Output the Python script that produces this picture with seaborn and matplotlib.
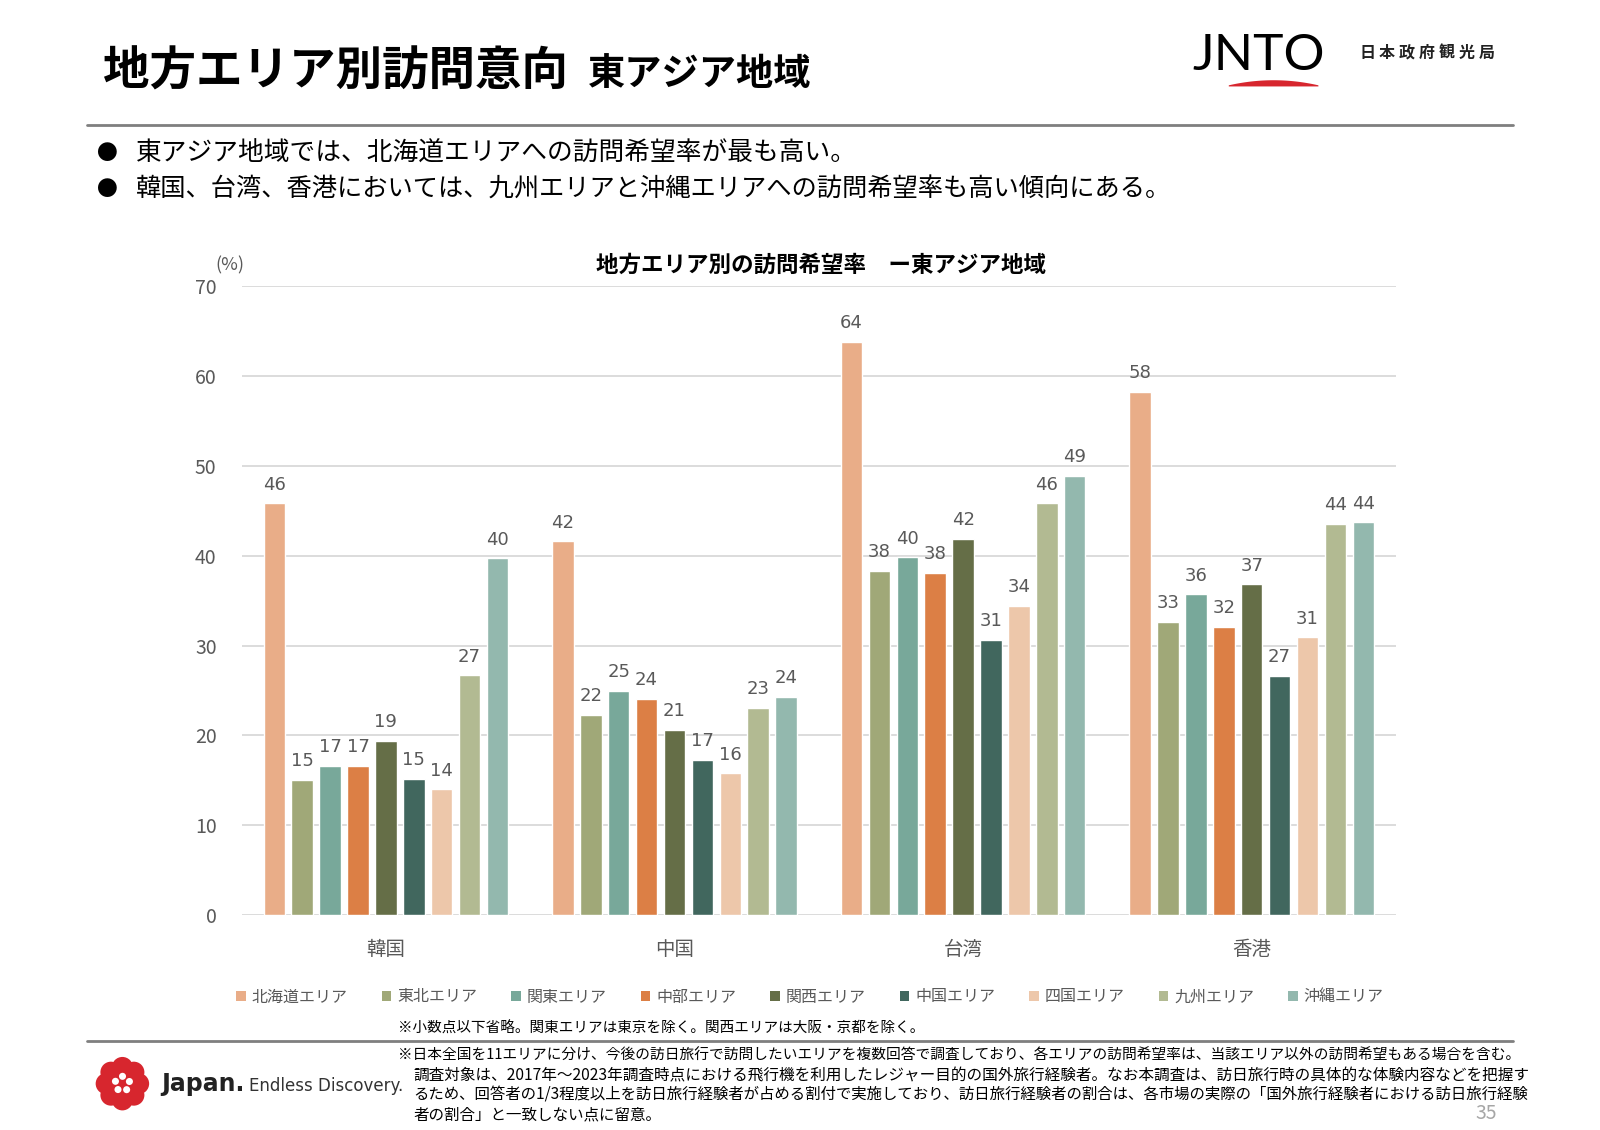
import numpy as np
import pandas as pd
import matplotlib
matplotlib.use("Agg")
import matplotlib.pyplot as plt
import seaborn as sns
from matplotlib.patches import Patch, Polygon, Circle
from matplotlib.lines import Line2D

# ---------------- data ----------------
countries = ["韓国", "中国", "台湾", "香港"]
areas = ["北海道エリア", "東北エリア", "関東エリア", "中部エリア", "関西エリア",
         "中国エリア", "四国エリア", "九州エリア", "沖縄エリア"]
area_colors = ["#E9AD88", "#A0A878", "#78A89A", "#DC7F45", "#656E47",
               "#41675E", "#EDC7AA", "#B2BA92", "#93B8AE"]
korea = [45.8, 15.1, 16.6, 16.6, 19.4, 15.2, 14.0, 26.7, 39.7]
china = [41.6, 22.3, 25.0, 24.1, 20.6, 17.3, 15.8, 23.1, 24.3]
taiwan = [63.8, 38.3, 39.8, 38.1, 41.9, 30.6, 34.4, 45.8, 48.9]
hongkong = [58.2, 32.6, 35.7, 32.1, 36.8, 26.6, 30.9, 43.5, 43.7]
y_ticks = [0, 10, 20, 30, 40, 50, 60, 70]

rows = []
for c, vals in zip(countries, [korea, china, taiwan, hongkong]):
    for a, v in zip(areas, vals):
        rows.append({"country": c, "area": a, "value": v})
df = pd.DataFrame(rows)

# ---------------- style ----------------
sns.set_theme(style="white")
plt.rcParams["font.family"] = ["Noto Sans CJK JP", "DejaVu Sans"]
GRAY = "#595959"

fig = plt.figure(figsize=(16, 11.3), dpi=100)
fig.patch.set_facecolor("white")

# ---------------- header ----------------
fig.text(0.0645, 0.937, "地方エリア別訪問意向", fontsize=33.5, fontweight="bold",
         va="center", ha="left", color="black")
fig.text(0.3673, 0.934, "東アジア地域", fontsize=26.8, fontweight="bold",
         va="center", ha="left", color="black")

# JNTO logo
fig.text(0.745, 0.950, "JNTO", fontsize=37, family="Lato", va="center",
         ha="left", color="black")
xs = np.linspace(0.768, 0.824, 40)
top = 0.9245 + 0.0045 * (1 - ((xs - 0.796) / 0.028) ** 2)
bot = np.full_like(xs, 0.9235)
poly = np.vstack([np.column_stack([xs, top]), np.column_stack([xs[::-1], bot[::-1]])])
fig.patches.append(Polygon(poly, closed=True, transform=fig.transFigure,
                           facecolor="#D7262E", edgecolor="none"))
for i, ch in enumerate("日本政府観光局"):
    fig.text(0.8495 + i * 0.01245, 0.953, ch, fontsize=11.5, fontweight="bold",
             va="center", ha="left", color="#222222")

fig.add_artist(Line2D([0.0542, 0.9458], [0.889, 0.889], transform=fig.transFigure,
                      color="#7F7F7F", lw=2))

fig.text(0.0605, 0.8637, "●", fontsize=15, va="center", ha="left", color="black")
fig.text(0.0848, 0.8637, "東アジア地域では、北海道エリアへの訪問希望率が最も高い。",
         fontsize=18.5, va="center", ha="left", color="black")
fig.text(0.0605, 0.832, "●", fontsize=15, va="center", ha="left", color="black")
fig.text(0.0848, 0.832,
         "韓国、台湾、香港においては、九州エリアと沖縄エリアへの訪問希望率も高い傾向にある。",
         fontsize=18.2, va="center", ha="left", color="black")

# ---------------- chart ----------------
ax = fig.add_axes([0.151, 0.19, 0.7215, 0.557])
sns.barplot(data=df, x="country", y="value", hue="area", order=countries,
            hue_order=areas, palette=area_colors, saturation=1, width=0.87,
            gap=0.23, legend=False, ax=ax, errorbar=None)
for cont in ax.containers:
    ax.bar_label(cont, fmt="{:.0f}", padding=7, fontsize=13, color=GRAY,
                 family="DejaVu Sans")

ax.set_ylim(0, 70)
ax.set_yticks(y_ticks)
ax.set_xlim(-0.5, 3.5)
ax.set_xlabel("")
ax.set_ylabel("")
ax.yaxis.grid(True, color="#D9D9D9", lw=1.3)
ax.set_axisbelow(True)
for s in ax.spines.values():
    s.set_visible(False)
ax.tick_params(axis="y", length=0, pad=18, labelsize=14, labelcolor=GRAY)
ax.tick_params(axis="x", length=0, pad=17, labelsize=14, labelcolor=GRAY)

fig.text(0.1435, 0.765, "(%)", fontsize=13, color=GRAY, va="center", ha="center")
fig.text(0.513, 0.765, "地方エリア別の訪問希望率　ー東アジア地域", fontsize=16.2,
         fontweight="bold", va="center", ha="center", color="black")

handles = [Patch(facecolor=c, edgecolor="none", label=a) for a, c in zip(areas, area_colors)]
fig.legend(handles=handles, loc="center", bbox_to_anchor=(0.5062, 0.1177), ncol=9,
           frameon=False, handlelength=0.6, handleheight=0.6, handletextpad=0.35,
           columnspacing=2.15, fontsize=11.5, labelcolor=GRAY)

# ---------------- footer ----------------
fig.text(0.2487, 0.0897, "※小数点以下省略。関東エリアは東京を除く。関西エリアは大阪・京都を除く。",
         fontsize=10.5, va="center", ha="left", color="black")
fig.add_artist(Line2D([0.0542, 0.9458], [0.0789, 0.0789], transform=fig.transFigure,
                      color="#7F7F7F", lw=2))
foot = [
    "※日本全国を11エリアに分け、今後の訪日旅行で訪問したいエリアを複数回答で調査しており、各エリアの訪問希望率は、当該エリア以外の訪問希望もある場合を含む。",
    "調査対象は、2017年～2023年調査時点における飛行機を利用したレジャー目的の国外旅行経験者。なお本調査は、訪日旅行時の具体的な体験内容などを把握す",
    "るため、回答者の1/3程度以上を訪日旅行経験者が占める割付で実施しており、訪日旅行経験者の割合は、各市場の実際の「国外旅行経験者における訪日旅行経験",
    "者の割合」と一致しない点に留意。",
]
fy = [0.0655, 0.0482, 0.031, 0.0133]
fx = [0.2487, 0.2583, 0.2583, 0.2583]
fs = [10.6, 11.25, 11.1, 11.2]
for t, x, y, s in zip(foot, fx, fy, fs):
    fig.text(x, y, t, fontsize=s, va="center", ha="left", color="black")

fig.text(0.9286, 0.015, "35", fontsize=14, color="#A6A6A6", va="center", ha="center")

# Japan logo
lax = fig.add_axes([0.055, 0.015, 0.043, 0.052])
lax.set_xlim(-1, 1)
lax.set_ylim(-1, 1)
lax.set_aspect("equal")
lax.axis("off")
for ang in np.linspace(0, 2 * np.pi, 8, endpoint=False):
    lax.add_patch(Circle((0.55 * np.cos(ang), 0.55 * np.sin(ang)), 0.36,
                         facecolor="#D7262E", edgecolor="none"))
lax.add_patch(Circle((0, 0), 0.5, facecolor="#D7262E", edgecolor="none"))
for ang in np.linspace(0.3, 2 * np.pi + 0.3, 5, endpoint=False):
    lax.add_patch(Circle((0.25 * np.cos(ang), 0.25 * np.sin(ang)), 0.12,
                         facecolor="white", edgecolor="none"))
fig.text(0.1007, 0.041, "Japan.", fontsize=17, fontweight="bold", family="DejaVu Sans",
         va="center", ha="left", color="#222222")
fig.text(0.1555, 0.039, "Endless Discovery.", fontsize=12, family="DejaVu Sans",
         va="center", ha="left", color="#333333")

fig.savefig("out.png", dpi=100, facecolor="white")
